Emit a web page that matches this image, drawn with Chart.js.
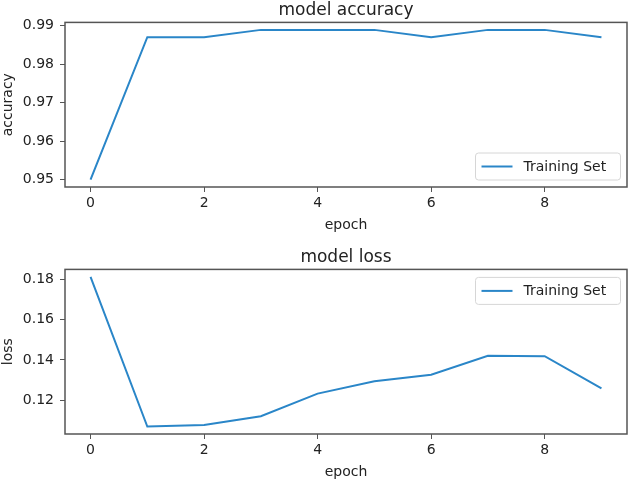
<!DOCTYPE html>
<html>
<head>
<meta charset="utf-8">
<script src="https://cdn.jsdelivr.net/npm/chart.js@4.4.0/dist/chart.umd.min.js"></script>
<style>
  html, body { margin: 0; padding: 0; background: #fff; overflow: hidden; }
  #wrap { position: relative; width: 629px; height: 481px; }
  .box { position: absolute; left: 0; width: 629px; height: 240px; }
</style>
</head>
<body>
<div id="wrap">
  <div class="box" style="top:0px"><canvas id="graficoacc"></canvas></div>
  <div class="box" style="top:247px"><canvas id="graficoloss"></canvas></div>
</div>
<script>
// data
const epochs = [0, 1, 2, 3, 4, 5, 6, 7, 8, 9];
const accuracy = [0.950, 0.987, 0.987, 0.9889, 0.9889, 0.9889, 0.987, 0.9889, 0.9889, 0.987];
const loss = [0.1811, 0.1070, 0.1078, 0.1121, 0.1233, 0.1294, 0.1326, 0.1420, 0.1418, 0.1259];
const xTicks = [0, 2, 4, 6, 8];
const accTicks = [0.95, 0.96, 0.97, 0.98, 0.99];
const lossTicks = [0.12, 0.14, 0.16, 0.18];
const seriesLabel = 'Training Set';

const lineColor = '#2a86c8';
const textColor = '#222';
const spineColor = '#555';
const fam = 'DejaVu Sans';

// matplotlib style 5% margins
function padded(arr) {
  const lo = Math.min(...arr), hi = Math.max(...arr);
  const m = (hi - lo) * 0.05;
  return [lo - m, hi + m];
}

// box around the plot area + legend inside it
const framePlugin = {
  id: 'frame',
  afterDraw(chart, args, opts) {
    const ctx = chart.ctx;
    const a = chart.chartArea;
    ctx.save();
    ctx.strokeStyle = spineColor;
    ctx.lineWidth = 1.5;
    ctx.strokeRect(a.left, a.top, a.right - a.left, a.bottom - a.top);

    // legend
    const w = 145, h = 27;
    const x = a.right - 6.5 - w;
    const y = opts.where === 'bottom' ? a.bottom - 7 - h : a.top + 8;
    ctx.beginPath();
    ctx.roundRect(x, y, w, h, 3);
    ctx.fillStyle = 'rgba(255,255,255,0.8)';
    ctx.fill();
    ctx.strokeStyle = '#d6d6d6';
    ctx.lineWidth = 1;
    ctx.stroke();
    ctx.beginPath();
    ctx.moveTo(x + 6, y + h / 2);
    ctx.lineTo(x + 37, y + h / 2);
    ctx.strokeStyle = chart.data.datasets[0].borderColor;
    ctx.lineWidth = 2;
    ctx.stroke();
    ctx.fillStyle = textColor;
    ctx.font = '14px "' + fam + '"';
    ctx.textBaseline = 'middle';
    ctx.textAlign = 'left';
    ctx.fillText(chart.data.datasets[0].label, x + 48, y + h / 2 + 0.5);
    ctx.restore();
  }
};

function makeChart(id, values, yTicks, title, yTitle, legendWhere) {
  const [ymin, ymax] = padded(values);
  return new Chart(document.getElementById(id), {
    type: 'line',
    data: {
      datasets: [{
        label: seriesLabel,
        data: epochs.map((e, i) => ({ x: e, y: values[i] })),
        borderColor: lineColor,
        backgroundColor: lineColor,
        borderWidth: 2,
        pointRadius: 0,
        tension: 0,
        fill: false
      }]
    },
    options: {
      responsive: true,
      maintainAspectRatio: false,
      animation: false,
      layout: { padding: { left: 0, right: 2, top: 0, bottom: 0 } },
      scales: {
        x: {
          type: 'linear',
          min: -0.45,
          max: 9.45,
          afterBuildTicks: s => { s.ticks = xTicks.map(v => ({ value: v })); },
          afterFit: s => { s.height = 53; },
          grid: { drawOnChartArea: false, drawTicks: true, tickLength: 5, color: spineColor },
          border: { display: false },
          ticks: {
            color: textColor,
            padding: 3,
            maxRotation: 0,
            font: { size: 14, family: fam },
            callback: v => String(v)
          },
          title: {
            display: true,
            text: 'epoch',
            color: textColor,
            padding: { top: 0, bottom: 6.6 },
            font: { size: 14, family: fam }
          }
        },
        y: {
          min: ymin,
          max: ymax,
          afterBuildTicks: s => { s.ticks = yTicks.map(v => ({ value: v })); },
          afterFit: s => { s.width = 65; },
          grid: { drawOnChartArea: false, drawTicks: true, tickLength: 5, color: spineColor },
          border: { display: false },
          ticks: {
            color: textColor,
            padding: 6,
            font: { size: 14, family: fam },
            callback: v => v.toFixed(2)
          },
          title: {
            display: true,
            text: yTitle,
            color: textColor,
            padding: { top: 0, bottom: 0 },
            font: { size: 14, family: fam }
          }
        }
      },
      plugins: {
        legend: { display: false },
        tooltip: { enabled: false },
        title: {
          display: true,
          text: title,
          fullSize: false,
          color: textColor,
          padding: { top: 0, bottom: 2 },
          font: { size: 17, family: fam, weight: 'normal' }
        },
        frame: { where: legendWhere }
      }
    },
    plugins: [framePlugin]
  });
}

const chartAcc = makeChart('graficoacc', accuracy, accTicks, 'model accuracy', 'accuracy', 'bottom');
const chartLoss = makeChart('graficoloss', loss, lossTicks, 'model loss', 'loss', 'top');
</script>
</body>
</html>
